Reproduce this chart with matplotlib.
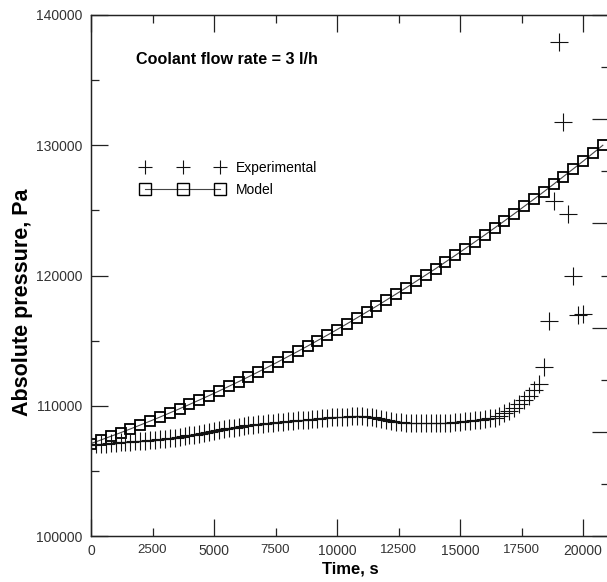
import matplotlib
matplotlib.use("Agg")
import matplotlib.pyplot as plt
from matplotlib.lines import Line2D
from matplotlib.ticker import MultipleLocator, NullFormatter, FormatStrFormatter

plt.rcParams['font.family'] = ['Liberation Sans', 'DejaVu Sans']

# experimental pressure, one point every 200 s
exp_time = list(range(0, 20001, 200))
exp_pressure = [
    107000, 107040, 107070, 107100, 107130, 107160, 107180, 107210, 107240, 107270,
    107300, 107330, 107360, 107390, 107420, 107460, 107500, 107550, 107600, 107660,
    107720, 107780, 107850, 107920, 107990, 108050, 108120, 108190, 108260, 108330,
    108400, 108440, 108490, 108530, 108580, 108620, 108660, 108690, 108730, 108760,
    108800, 108840, 108870, 108910, 108940, 108980, 109010, 109040, 109070, 109100,
    109130, 109150, 109170, 109190, 109200, 109190, 109150, 109100, 109040, 108970,
    108900, 108850, 108790, 108750, 108710, 108680, 108660, 108650, 108640, 108640,
    108650, 108660, 108680, 108710, 108740, 108770, 108810, 108850, 108890, 108930,
    108980, 109030, 109080, 109240, 109420, 109620, 109850, 110110, 110440, 110750,
    111210, 111650, 113000, 116500, 125700, 137900, 131800, 124700, 120000, 117000,
    117050,
]

# model pressure, one point every 400 s
model_time = list(range(0, 20801, 400))
model_pressure = [
    107100, 107370, 107650, 107930, 108220, 108520, 108820, 109130, 109450, 109770,
    110100, 110440, 110780, 111130, 111490, 111850, 112220, 112600, 112980, 113370,
    113770, 114170, 114580, 115000, 115420, 115850, 116290, 116740, 117190, 117640,
    118110, 118580, 119050, 119540, 120030, 120520, 121030, 121540, 122060, 122580,
    123110, 123650, 124190, 124740, 125300, 125860, 126430, 127010, 127600, 128190,
    128780, 129390, 130000,
]

fig = plt.figure(figsize=(6.07, 5.82), dpi=100)
ax = fig.add_axes([91/607, 46/582, 518/607, 521/582])

ax.plot(model_time, model_pressure, color='#444444', lw=0.8, marker='s', ms=7.8,
        mfc='none', mec='black', mew=1.3)
ax.plot(exp_time, exp_pressure, ls='none', marker='+', ms=13, mew=0.8, color='#111111')

ax.set_xlim(0, 21050)
ax.set_ylim(100000, 140000)

ax.xaxis.set_major_locator(MultipleLocator(5000))
ax.xaxis.set_minor_locator(MultipleLocator(2500))
ax.xaxis.set_minor_formatter(FormatStrFormatter('%d'))
ax.yaxis.set_major_locator(MultipleLocator(10000))
ax.yaxis.set_minor_locator(MultipleLocator(5000))
ax.yaxis.set_minor_formatter(NullFormatter())

ax.tick_params(which='both', direction='in', top=True, right=False, colors='#222222',
               labelcolor='#333333', width=0.9)
ax.tick_params(which='major', length=12, labelsize=10, pad=6)
ax.tick_params(which='minor', length=6, labelsize=9.5, pad=6)

# right axis only shows its ticks, labels fall outside the picture
ax2 = ax.twinx()
ax2.set_ylim(0, 5)
ax2.yaxis.set_major_locator(MultipleLocator(1))
ax2.yaxis.set_minor_locator(MultipleLocator(0.5))
ax2.tick_params(which='both', direction='in', labelright=False, colors='#222222', width=0.9)
ax2.tick_params(which='major', length=12)
ax2.tick_params(which='minor', length=6)

for a in (ax, ax2):
    for s in a.spines.values():
        s.set_color('#222222')
        s.set_linewidth(0.9)

ax.set_xlabel("Time, s", fontsize=12, fontweight='bold', labelpad=2)
ax.set_ylabel("Absolute pressure, Pa", fontsize=15.5, fontweight='bold', va='center')
ax.yaxis.set_label_coords(-0.133, 0.449)

ax.text(0.087, 0.914, "Coolant flow rate = 3 l/h", transform=ax.transAxes,
        fontsize=11.6, fontweight='bold', va='center', ha='left')

handles = [
    Line2D([], [], ls='none', marker='+', ms=9.5, mew=0.8, color='#111111'),
    Line2D([], [], color='#444444', lw=0.8, marker='s', ms=8.5, mfc='none', mec='black', mew=1.0),
]
ax.legend(handles, ["Experimental", "Model"], loc='center left',
          bbox_to_anchor=(0.0965, 0.685), frameon=False, numpoints=3,
          handlelength=6.0, handletextpad=0.85, labelspacing=0.55,
          borderpad=0, borderaxespad=0, fontsize=10)

fig.savefig("out.png", dpi=100)
